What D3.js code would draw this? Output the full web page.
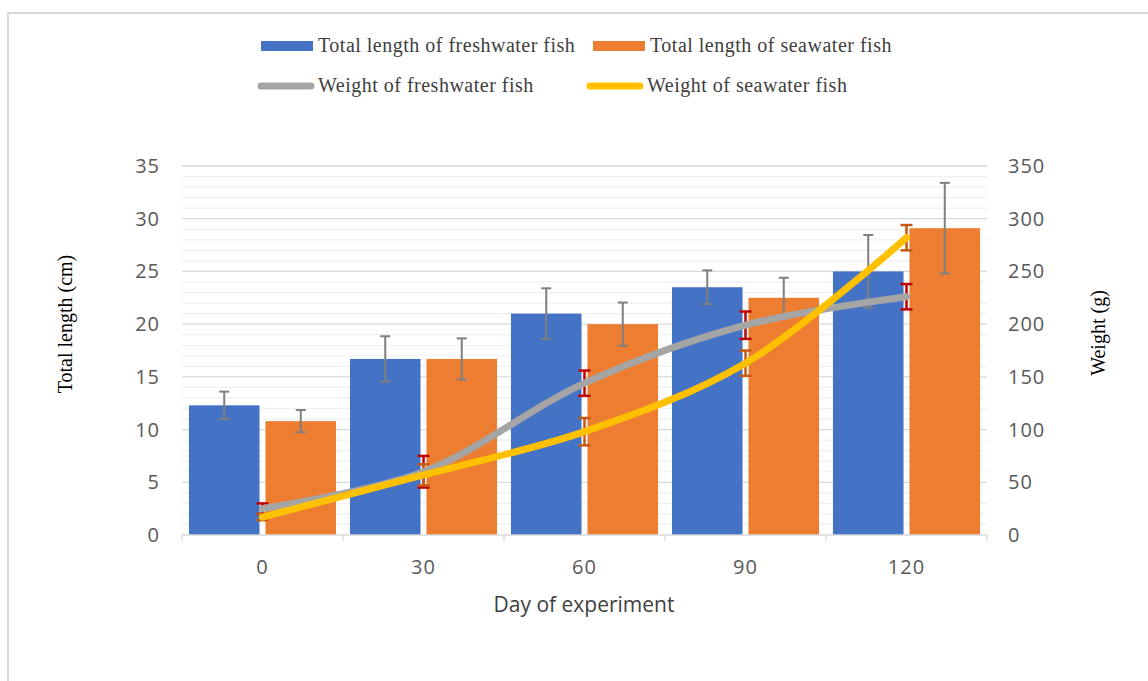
<!DOCTYPE html>
<html><head><meta charset="utf-8">
<script src="https://cdn.jsdelivr.net/npm/d3@7/dist/d3.min.js"></script>
<style>body{margin:0;background:#fff}svg{display:block}</style>
</head><body>
<svg id="c" width="1148" height="681"></svg>
<script>
const days = ["0","30","60","90","120"];
const lenFresh = [12.3, 16.7, 21.0, 23.5, 25.0];
const lenFreshErr = [1.3, 2.15, 2.4, 1.6, 3.45];
const lenSea = [10.8, 16.7, 20.0, 22.5, 29.1];
const lenSeaErr = [1.05, 1.95, 2.05, 1.9, 4.3];
const wFresh = [25, 60, 144, 199, 226];
const wFreshErr = [5, 15, 12, 13, 12];
const wSea = [17, 57, 98, 163, 282];
const wSeaErr = [3, 10, 13, 12, 12];
const leftTicks = [0,5,10,15,20,25,30,35];
const rightTicks = [0,50,100,150,200,250,300,350];

const svg = d3.select("#c");
const L = 182, R = 987, T = 166, B = 535;

// frame
svg.append("path").attr("d","M8,681 V13 H1148").attr("fill","none").attr("stroke","#d9d9d9").attr("stroke-width",2);

const x = d3.scaleBand().domain(days).range([L,R]).padding(0);
const sub = d3.scaleBand().domain(["f","s"]).range([0,x.bandwidth()]).paddingInner(0.078).paddingOuter(0.091);
const yL = d3.scaleLinear().domain([0,35]).range([B,T]);
const yR = d3.scaleLinear().domain([0,350]).range([B,T]);

// gridlines
const minor = d3.range(0,36,1).filter(v=>v%5!==0);
svg.append("g").selectAll("line").data(minor).join("line")
  .attr("x1",L).attr("x2",R).attr("y1",d=>yL(d)).attr("y2",d=>yL(d))
  .attr("stroke","#efefef").attr("stroke-width",1.2);
svg.append("g").selectAll("line").data(leftTicks.slice(1)).join("line")
  .attr("x1",L).attr("x2",R).attr("y1",d=>yL(d)).attr("y2",d=>yL(d))
  .attr("stroke","#d9d9d9").attr("stroke-width",1.3);

// bars
const series = [
  {key:"f", vals:lenFresh, err:lenFreshErr, color:"#4472C4"},
  {key:"s", vals:lenSea, err:lenSeaErr, color:"#ED7D31"}
];
series.forEach(s=>{
  const g = svg.append("g");
  g.selectAll("rect").data(days).join("rect")
    .attr("x",(d)=>x(d)+sub(s.key)).attr("width",sub.bandwidth())
    .attr("y",(d,i)=>yL(s.vals[i])).attr("height",(d,i)=>B-yL(s.vals[i]))
    .attr("fill",s.color);
});
series.forEach(s=>{
  const g = svg.append("g").attr("stroke","#7f7f7f").attr("stroke-width",2);
  days.forEach((d,i)=>{
    const cx = x(d)+sub(s.key)+sub.bandwidth()/2;
    const y1 = yL(s.vals[i]+s.err[i]), y2 = yL(s.vals[i]-s.err[i]);
    g.append("line").attr("x1",cx).attr("x2",cx).attr("y1",y1).attr("y2",y2);
    g.append("line").attr("x1",cx-5).attr("x2",cx+5).attr("y1",y1).attr("y2",y1);
    g.append("line").attr("x1",cx-5).attr("x2",cx+5).attr("y1",y2).attr("y2",y2);
  });
});

// x axis
const xa = svg.append("g").attr("transform",`translate(0,${B})`);
xa.append("line").attr("x1",L).attr("x2",R).attr("stroke","#d9d9d9").attr("stroke-width",1.3);
const bounds = days.map(d=>x(d)).concat([R]);
xa.selectAll(".tk").data(bounds).join("line").attr("class","tk")
  .attr("x1",d=>d).attr("x2",d=>d).attr("y1",0).attr("y2",6).attr("stroke","#d9d9d9").attr("stroke-width",1.3);
const tickFont = sel => sel.attr("fill","#595959").style("font-family","'Open Sans', sans-serif")
  .style("font-size","20px").style("letter-spacing","1px");
xa.selectAll("text").data(days).join("text")
  .attr("x",d=>x(d)+x.bandwidth()/2).attr("y",39)
  .attr("text-anchor","middle").call(tickFont).text(d=>d);

// y axes labels
svg.append("g").selectAll("text").data(leftTicks).join("text")
  .attr("x",160).attr("y",d=>yL(d)+7).attr("text-anchor","end").call(tickFont).text(d=>d);
svg.append("g").selectAll("text").data(rightTicks).join("text")
  .attr("x",1008).attr("y",d=>yR(d)+7).attr("text-anchor","start").call(tickFont).text(d=>d);

// lines with error bars
const cx = d=>x(d)+x.bandwidth()/2;
const lines = [
  {vals:wFresh, err:wFreshErr, color:"#A5A5A5", ecol:"#C00000"},
  {vals:wSea, err:wSeaErr, color:"#FFC000", ecol:"#C55A11"}
];
lines.forEach(s=>{
  const g = svg.append("g").attr("stroke",s.ecol).attr("stroke-width",2.5);
  days.forEach((d,i)=>{
    const px = cx(d);
    const y1 = yR(s.vals[i]+s.err[i]), y2 = yR(s.vals[i]-s.err[i]);
    g.append("line").attr("x1",px).attr("x2",px).attr("y1",y1).attr("y2",y2);
    g.append("line").attr("x1",px-6).attr("x2",px+6).attr("y1",y1).attr("y2",y1);
    g.append("line").attr("x1",px-6).attr("x2",px+6).attr("y1",y2).attr("y2",y2);
  });
});
lines.forEach(s=>{
  const line = d3.line().x(d=>cx(d)).y((d,i)=>yR(s.vals[i])).curve(d3.curveCatmullRom.alpha(0.5));
  svg.append("path").datum(days).attr("d",line).attr("fill","none")
    .attr("stroke",s.color).attr("stroke-width",7).attr("stroke-linecap","round").attr("stroke-linejoin","round");
});

// axis titles
svg.append("text").attr("transform","translate(72,324) rotate(-90)").attr("text-anchor","middle")
  .style("font-family","'Liberation Serif', serif").style("font-size","20px").attr("fill","#000").text("Total length (cm)");
svg.append("text").attr("transform","translate(1105,333) rotate(-90)").attr("text-anchor","middle")
  .style("font-family","'Liberation Serif', serif").style("font-size","20px").attr("fill","#000").text("Weight (g)");
svg.append("text").attr("x",584).attr("y",612).attr("text-anchor","middle").attr("fill","#404040")
  .style("font-family","'Open Sans', sans-serif").style("font-size","21px").text("Day of experiment");

// legend
const legItems = [
  {label:"Total length of freshwater fish", color:"#4472C4", type:"rect", x:261, y:46},
  {label:"Total length of seawater fish", color:"#ED7D31", type:"rect", x:593, y:46},
  {label:"Weight of freshwater fish", color:"#A5A5A5", type:"line", x:261, y:86},
  {label:"Weight of seawater fish", color:"#FFC000", type:"line", x:590, y:86}
];
const lg = svg.append("g");
legItems.forEach(it=>{
  if(it.type==="rect"){
    lg.append("rect").attr("x",it.x).attr("y",it.y-5).attr("width",52).attr("height",10).attr("fill",it.color);
  } else {
    lg.append("line").attr("x1",it.x).attr("x2",it.x+50).attr("y1",it.y).attr("y2",it.y)
      .attr("stroke",it.color).attr("stroke-width",7).attr("stroke-linecap","round");
  }
  lg.append("text").attr("x",it.x+57).attr("y",it.y+6).attr("fill","#404040")
    .style("font-family","'Liberation Serif', serif").style("font-size","20px").style("letter-spacing","0.5px").text(it.label);
});
</script>
</body></html>
